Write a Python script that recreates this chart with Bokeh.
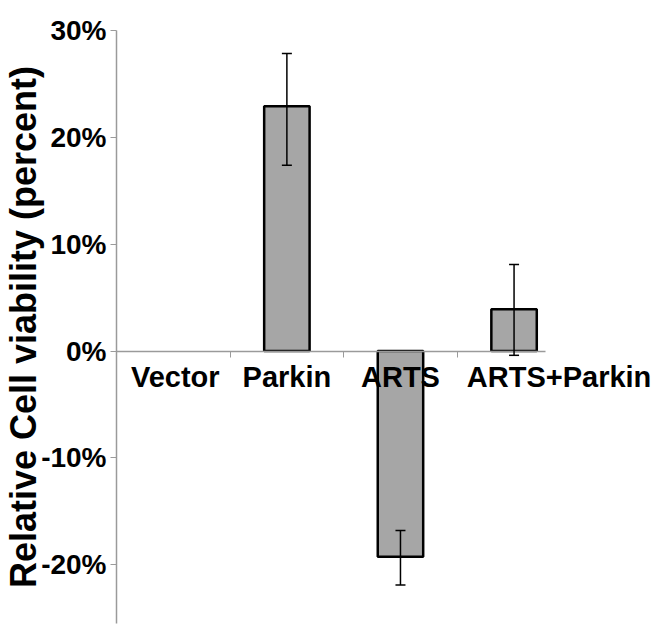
from bokeh.plotting import figure
from bokeh.models import Range1d, FixedTicker, Whisker, ColumnDataSource, TeeHead
from bokeh.core.properties import value
from bokeh.embed import file_html
from bokeh.resources import INLINE

categories = ["Vector", "Parkin", "ARTS", "ARTS+Parkin"]
viability = [0.0, 22.9, -19.25, 3.9]
err_low = [0.0, 17.4, -21.9, -0.4]
err_high = [0.0, 27.85, -16.8, 8.1]
has_err = [False, True, True, True]
y_ticks = [-20, -10, 0, 10, 20, 30]
y_tick_labels = ["-20%", "-10%", "0%", "10%", "20%", "30%"]

FONT = "Liberation Sans"
xs = [i + 0.5 for i in range(len(categories))]

p = figure(width=651, height=625, x_range=Range1d(0, 4.71), y_range=Range1d(-25.5, 30),
           output_backend="svg", toolbar_location=None, x_axis_location="above",
           min_border_top=30, min_border_bottom=2, min_border_right=0, min_border_left=0)
p.outline_line_color = None
p.xgrid.visible = False
p.ygrid.visible = False
p.background_fill_color = "white"

bx = [x for x, v in zip(xs, viability) if v != 0]
bv = [v for v in viability if v != 0]
bars = ColumnDataSource(dict(x=bx, v=bv))
p.vbar(x="x", top="v", bottom=0, width=0.4, source=bars,
       fill_color="#a6a6a6", line_color="black", line_width=2.5)

ex = [x for x, h in zip(xs, has_err) if h]
elo = [v for v, h in zip(err_low, has_err) if h]
ehi = [v for v, h in zip(err_high, has_err) if h]
esrc = ColumnDataSource(dict(x=ex, lo=elo, hi=ehi))
p.add_layout(Whisker(base="x", lower="lo", upper="hi", source=esrc, level="overlay",
                     line_color="black", line_width=1.5,
                     upper_head=TeeHead(size=10, line_width=1.5, line_color="black"),
                     lower_head=TeeHead(size=10, line_width=1.5, line_color="black")))

# category labels
lsrc = ColumnDataSource(dict(x=xs, y=[0] * len(xs), t=categories, xo=[2, 0, 0, 45]))
p.text(x="x", y="y", text="t", source=lsrc, x_offset="xo", y_offset=10,
       text_align="center", text_baseline="top", text_font=value(FONT),
       text_font_style="bold", text_font_size="29px", text_color="black")

# x axis at zero (ticks between categories, no labels)
xa = p.xaxis[0]
xa.fixed_location = 0
xa.ticker = FixedTicker(ticks=[1, 2, 3])
xa.major_label_overrides = {1: "", 2: "", 3: ""}
xa.major_label_standoff = 0
xa.major_tick_out = 0
xa.major_tick_in = 6
xa.minor_tick_line_color = None
xa.axis_line_color = "#9a9a9a"
xa.major_tick_line_color = "#9a9a9a"
xa.axis_line_width = 1.5
xa.bounds = (0, 3.78)

ya = p.yaxis[0]
ya.ticker = FixedTicker(ticks=y_ticks)
ya.major_label_overrides = {t: l for t, l in zip(y_ticks, y_tick_labels)}
ya.major_label_text_font = FONT
ya.major_label_text_font_style = "bold"
ya.major_label_text_font_size = "28px"
ya.major_label_text_color = "black"
ya.major_label_standoff = 4
ya.major_tick_out = 6
ya.major_tick_in = 0
ya.minor_tick_line_color = None
ya.axis_line_color = "#9a9a9a"
ya.major_tick_line_color = "#9a9a9a"
ya.axis_line_width = 1.5
ya.axis_label = "Relative Cell viability (percent)"
ya.axis_label_text_font = FONT
ya.axis_label_text_font_style = "bold"
ya.axis_label_text_font_size = "36px"
ya.axis_label_text_color = "black"
ya.axis_label_standoff = -6

open("out.html", "w").write(file_html(p, INLINE))
